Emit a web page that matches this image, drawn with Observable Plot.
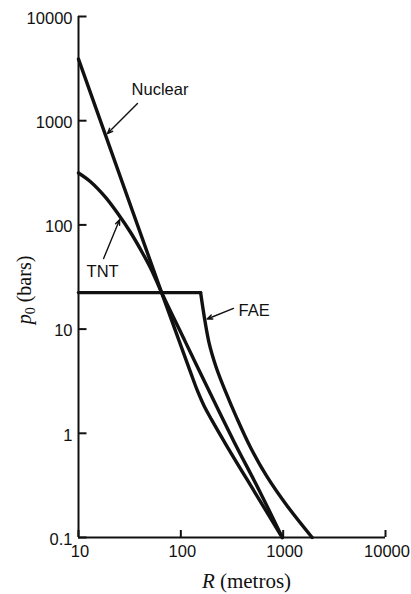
<!DOCTYPE html>
<html>
<head>
<meta charset="utf-8">
<script src="https://cdn.jsdelivr.net/npm/d3@7"></script>
<script src="https://cdn.jsdelivr.net/npm/@observablehq/plot@0.6"></script>
<style>
  html, body { margin: 0; padding: 0; background: #fff; }
  #chart svg { display: block; }
</style>
</head>
<body>
<div id="chart"></div>
<script>
// Peak overpressure p0 (bars) versus distance R (metres)
const nuclearR = [10, 65, 124, 145.5, 168, 199, 276, 530, 980];
const nuclearP = [3900, 22.3, 3.88, 2.55, 1.85, 1.36, 0.78, 0.27, 0.1];

const tntR = [10, 13.1, 18.4, 24.6, 32.2, 41.7, 51.7, 65, 111, 188, 327, 587, 980];
const tntP = [315, 260, 184, 126, 85, 55, 37, 22.3, 7.5, 2.57, 0.85, 0.28, 0.1];

const faeR = [10, 156, 188, 221, 273, 350, 480, 688, 1078, 1920];
const faeP = [22.4, 22.4, 7.5, 4.33, 2.52, 1.42, 0.73, 0.39, 0.205, 0.1];

// Axis ticks
const xTicks = [10, 100, 1000, 10000];
const xTickLabels = ["10", "100", "1000", "10000"];
const yTicks = [0.1, 1, 10, 100, 1000, 10000];
const yTickLabels = ["0.1", "1", "10", "100", "1000", "10000"];

// Curve labels and their leader arrows (R, p)
const noteText = ["Nuclear", "TNT", "FAE"];
const noteAnchor = ["start", "middle", "start"];
const noteR = [33, 17.2, 366];
const noteP = [2000, 35.7, 15.1];
const arrowFromR = [37.7, 17.6, 327];
const arrowFromP = [1460, 47.6, 15.8];
const arrowToR = [19.2, 25.2, 181];
const arrowToP = [754, 112, 12.5];

const toRows = (Rs, Ps) => Rs.map((R, i) => ({R, p: Ps[i]}));
const nuclear = toRows(nuclearR, nuclearP);
const tnt = toRows(tntR, tntP);
const fae = toRows(faeR, faeP);
const notes = noteText.map((t, i) => ({t, anchor: noteAnchor[i], R: noteR[i], p: noteP[i]}));
const arrows = noteText.map((t, i) => ({x1: arrowFromR[i], y1: arrowFromP[i], x2: arrowToR[i], y2: arrowToP[i]}));

const W = 411, H = 594;
const mL = 78, mR = 26, mT = 16, mB = 57;
const frameW = W - mL - mR, frameH = H - mT - mB;

const ink = "#111";
const lineStyle = {x: "R", y: "p", stroke: ink, strokeWidth: 3.4, strokeLinejoin: "round"};

const plot = Plot.plot({
  width: W,
  height: H,
  marginLeft: mL,
  marginRight: mR,
  marginTop: mT,
  marginBottom: mB,
  style: {fontFamily: "'Liberation Sans', Arial, Helvetica, sans-serif", fontSize: "16.5px", background: "#fff", color: ink},
  x: {type: "log", domain: [10, 10000]},
  y: {type: "log", domain: [0.1, 10000]},
  marks: [
    Plot.axisX(xTicks, {tickSize: 0, tickPadding: 8, dx: 1.5, label: null,
      tickFormat: d => xTickLabels[xTicks.indexOf(d)]}),
    Plot.axisY(yTicks, {tickSize: 0, tickPadding: 6, dy: 2, label: null,
      tickFormat: d => yTickLabels[yTicks.indexOf(d)]}),
    // inward tick marks
    Plot.ruleX(xTicks, {insetTop: frameH - 7, stroke: ink, strokeWidth: 2}),
    Plot.ruleY(yTicks, {insetRight: frameW - 8.5, stroke: ink, strokeWidth: 2}),
    // axis lines
    Plot.ruleX([10], {stroke: ink, strokeWidth: 2}),
    Plot.ruleY([0.1], {stroke: ink, strokeWidth: 2}),
    // curves
    Plot.line(nuclear, {...lineStyle, curve: "catmull-rom"}),
    Plot.line(tnt, {...lineStyle, curve: "catmull-rom"}),
    Plot.line(fae.slice(0, 2), {...lineStyle, curve: "linear"}),
    Plot.line(fae.slice(1), {...lineStyle, curve: "catmull-rom"}),
    // labels
    Plot.arrow(arrows, {x1: "x1", y1: "y1", x2: "x2", y2: "y2", stroke: ink, strokeWidth: 1.4, headLength: 6, headAngle: 45}),
    Plot.text(notes.filter(d => d.anchor === "start"), {x: "R", y: "p", text: "t", textAnchor: "start", fill: ink, fontSize: 16.5}),
    Plot.text(notes.filter(d => d.anchor === "middle"), {x: "R", y: "p", text: "t", textAnchor: "middle", fill: ink, fontSize: 16.5})
  ]
});

document.getElementById("chart").appendChild(plot);

// Axis titles in serif with italic symbols
const svg = d3.select(plot);
const serif = "'Liberation Serif', 'Times New Roman', Times, serif";

const yTitle = svg.append("text")
  .attr("transform", "translate(31,290) rotate(-90)")
  .attr("text-anchor", "middle")
  .attr("font-family", serif)
  .attr("font-size", 20)
  .attr("fill", ink);
yTitle.append("tspan").attr("font-style", "italic").text("p");
yTitle.append("tspan").attr("font-size", 14).attr("dy", 4).text("0");
yTitle.append("tspan").attr("dy", -4).text(" (bars)");

const xTitle = svg.append("text")
  .attr("x", 246.5)
  .attr("y", 588)
  .attr("text-anchor", "middle")
  .attr("font-family", serif)
  .attr("font-size", 21)
  .attr("fill", ink);
xTitle.append("tspan").attr("font-style", "italic").text("R");
xTitle.append("tspan").text(" (metros)");
</script>
</body>
</html>
